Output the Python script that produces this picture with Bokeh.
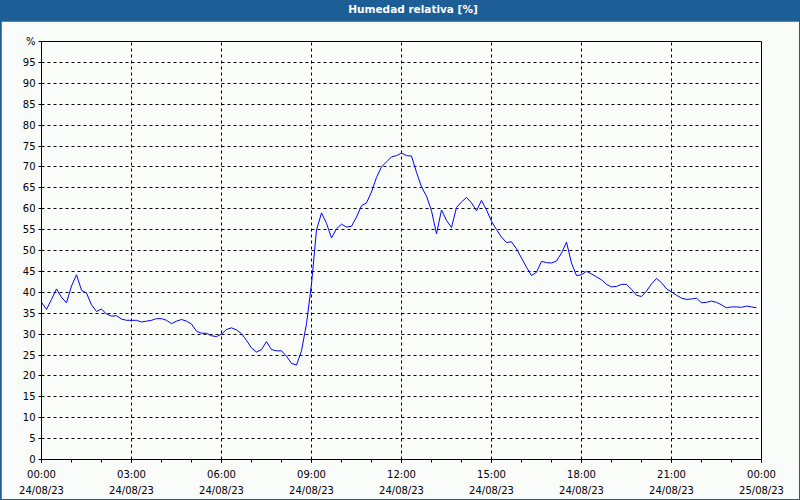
import pandas as pd
from bokeh.plotting import figure
from bokeh.models import Range1d, FixedTicker, DatetimeTickFormatter, Div, ColumnDataSource
from bokeh.layouts import column
from bokeh.embed import file_html
from bokeh.resources import INLINE

# ---------------- data ----------------
title_text = "Humedad relativa [%]"
start_time = "2023-08-24 00:00"
step = "10min"
humidity = [
    37.6, 35.9, 38.3, 40.8, 38.8, 37.5,
    41.5, 44.2, 40.5, 39.8, 37.0, 35.4,
    36.0, 34.8, 34.3, 34.4, 33.6, 33.3,
    33.3, 33.3, 32.9, 33.1, 33.3, 33.7,
    33.7, 33.3, 32.5, 33.1, 33.5, 33.1,
    32.4, 30.7, 30.2, 30.2, 29.6, 29.4,
    30.0, 31.1, 31.5, 31.0, 30.1, 28.5,
    26.7, 25.7, 26.3, 28.2, 26.3, 26.0,
    26.0, 24.7, 23.0, 22.6, 26.0, 32.5,
    42.0, 54.9, 59.0, 56.5, 53.0, 55.2,
    56.3, 55.6, 55.8, 58.0, 60.7, 61.4,
    64.0, 67.5, 70.0, 71.2, 72.4, 72.7,
    73.3, 72.7, 72.6, 68.7, 65.2, 63.0,
    59.5, 54.0, 59.7, 57.2, 55.5, 60.3,
    61.6, 62.7, 61.4, 59.5, 62.0, 59.7,
    57.0, 55.0, 53.2, 51.9, 52.1, 50.4,
    48.2, 46.0, 44.0, 44.8, 47.4, 47.1,
    47.0, 47.5, 49.4, 52.0, 47.0, 44.0,
    44.2, 45.0, 44.4, 43.7, 43.0, 41.9,
    41.3, 41.4, 41.9, 41.9, 40.7, 39.3,
    39.0, 40.3, 42.0, 43.3, 42.3, 40.8,
    40.1, 39.3, 38.6, 38.3, 38.4, 38.6,
    37.5, 37.6, 37.9, 37.6, 37.0, 36.3,
    36.5, 36.5, 36.4, 36.7, 36.5, 36.3,
]
y_ticks = list(range(0, 100, 5))
y_unit_tick = 100
y_unit_label = "%"
x_major_hours = list(range(0, 25, 3))
x_minor_hours = list(range(0, 25, 1))

# ---------------- styling ----------------
BLUE = "#1c5e95"
BG = "#fafcfa"
FONT = "DejaVu Sans"

t0 = pd.Timestamp(start_time)
times = pd.date_range(start_time, periods=len(humidity), freq=step)


def ms(h):
    return (t0 + pd.Timedelta(hours=h)).value / 1e6


src = ColumnDataSource(dict(t=times, v=humidity))

p = figure(
    width=798, height=478,
    x_axis_type="datetime",
    x_range=Range1d(ms(0), ms(24)),
    y_range=Range1d(0, 100),
    output_backend="svg",
    toolbar_location=None,
    min_border_left=40, min_border_right=38,
    min_border_top=20, min_border_bottom=38,
    background_fill_color=BG,
    border_fill_color=BG,
    outline_line_color="black",
    outline_line_width=1,
    margin=(0, 1, 1, 1),
)

p.line("t", "v", source=src, line_color="#0000ff", line_width=1)

# x axis
xax = p.xaxis[0]
xax.ticker = FixedTicker(ticks=[ms(h) for h in x_major_hours],
                         minor_ticks=[ms(h) for h in x_minor_hours])
fmt = "%H:%M\n%d/%m/%y"
xax.formatter = DatetimeTickFormatter(
    microseconds=fmt, milliseconds=fmt, seconds=fmt, minsec=fmt, minutes=fmt,
    hourmin=fmt, hours=fmt, days=fmt, months=fmt, years=fmt,
)
xax.major_tick_in = 0
xax.major_tick_out = 3
xax.minor_tick_in = 0
xax.minor_tick_out = 3
xax.major_label_standoff = 6
xax.major_label_text_font = FONT
xax.major_label_text_font_size = "10px"
xax.major_label_text_color = "#000000"
xax.major_label_text_line_height = 1.5
xax.axis_line_color = "black"
xax.major_tick_line_color = "black"
xax.minor_tick_line_color = "black"

# y axis
yax = p.yaxis[0]
yax.ticker = FixedTicker(ticks=y_ticks + [y_unit_tick])
yax.major_label_overrides = {y_unit_tick: y_unit_label}
yax.major_tick_in = 0
yax.major_tick_out = 3
yax.minor_tick_line_color = None
yax.major_label_standoff = 3
yax.major_label_text_font = FONT
yax.major_label_text_font_size = "10px"
yax.major_label_text_color = "#000000"
yax.axis_line_color = "black"
yax.major_tick_line_color = "black"

# grid
p.xgrid.ticker = FixedTicker(ticks=[ms(h) for h in x_major_hours])
p.ygrid.ticker = FixedTicker(ticks=y_ticks)
for g in (p.xgrid, p.ygrid):
    g.grid_line_color = "black"
    g.grid_line_dash = "3 3"
    g.grid_line_width = 1
    g.grid_line_alpha = 1.0

title = Div(
    text=('<div style="display:block;box-sizing:border-box;width:800px;'
          'text-align:center;padding-left:26px;color:white;'
          'font-weight:bold;font-family:\'DejaVu Sans\';font-size:10.5px;'
          'line-height:19px;">' + title_text + '</div>'),
    width=800, height=21, margin=(0, 0, 0, 0),
    styles={"background-color": BLUE},
)

layout = column(title, p, spacing=0, styles={"background-color": BLUE})

open("out.html", "w").write(file_html(layout, INLINE))
